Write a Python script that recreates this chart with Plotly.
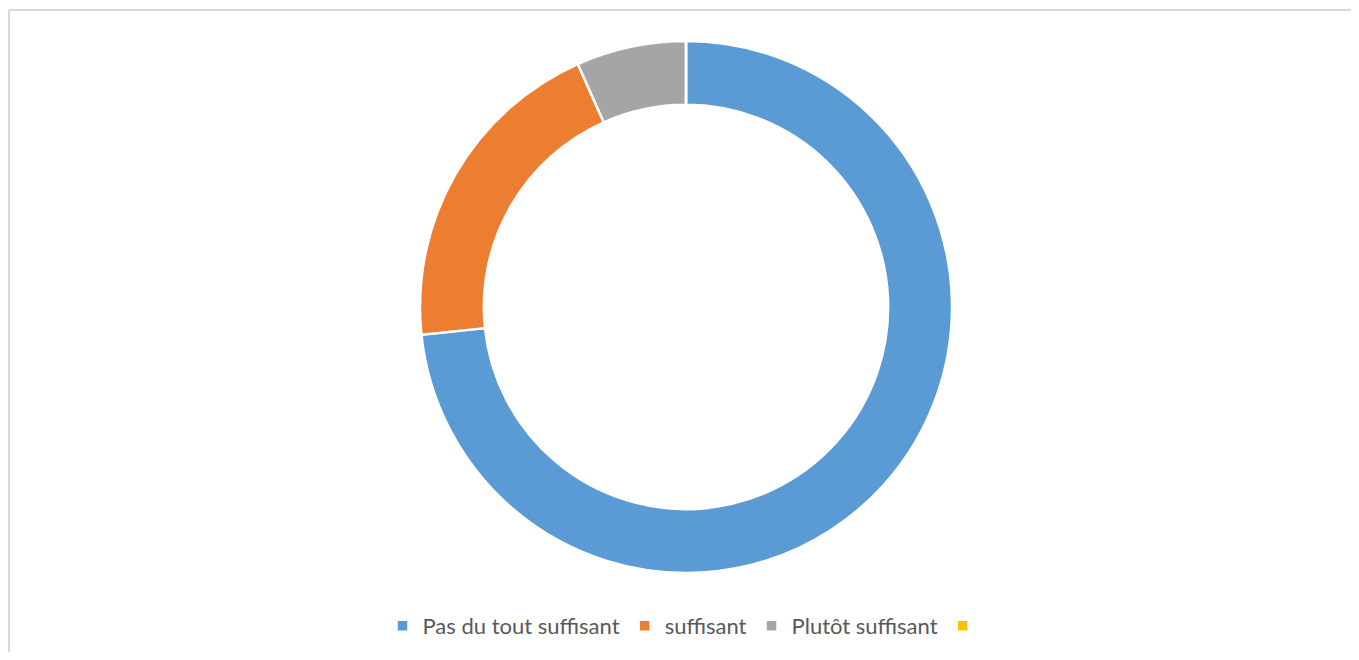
import plotly.graph_objects as go

# Données du graphique en anneau
labels = ["Pas du tout suffisant", "suffisant", "Plutôt suffisant", " "]
values = [11, 3, 1, 0]
colors = ["#5B9BD5", "#ED7D31", "#A5A5A5", "#FFC000"]

OFF = 8  # marge par défaut du <body> dans la page
W, H = 1359 - 2 * OFF, 660 - 2 * OFF


def px_x(x):
    return (x - OFF) / W


def px_y(y):
    return (H - (y - OFF)) / H


fig = go.Figure()
fig.add_trace(
    go.Pie(
        labels=labels,
        values=values,
        hole=0.76,
        sort=False,
        direction="clockwise",
        rotation=0,
        textinfo="none",
        marker=dict(colors=colors, line=dict(color="white", width=2.5)),
        domain=dict(x=[px_x(686 - 600), px_x(686 + 600)], y=[px_y(573), px_y(41)]),
        hovertemplate="%{label}: %{value}<extra></extra>",
    )
)

# bordure du cadre (haut et gauche seulement visibles)
border = dict(type="line", xref="paper", yref="paper", line=dict(color="#D9D9D9", width=2))

fig.update_layout(
    width=W,
    height=H,
    margin=dict(t=0, b=0, l=0, r=0),
    paper_bgcolor="white",
    font=dict(family="Lato", color="#595959"),
    legend=dict(
        orientation="h",
        x=px_x(688),
        xanchor="center",
        y=px_y(626),
        yanchor="middle",
        font=dict(size=22, color="#595959"),
        itemwidth=30,
        traceorder="normal",
    ),
    shapes=[
        dict(border, x0=px_x(9), x1=1.1, y0=px_y(10), y1=px_y(10)),
        dict(border, x0=px_x(9), x1=px_x(9), y0=-0.1, y1=px_y(10)),
    ],
)

fig.write_html("out.html")
